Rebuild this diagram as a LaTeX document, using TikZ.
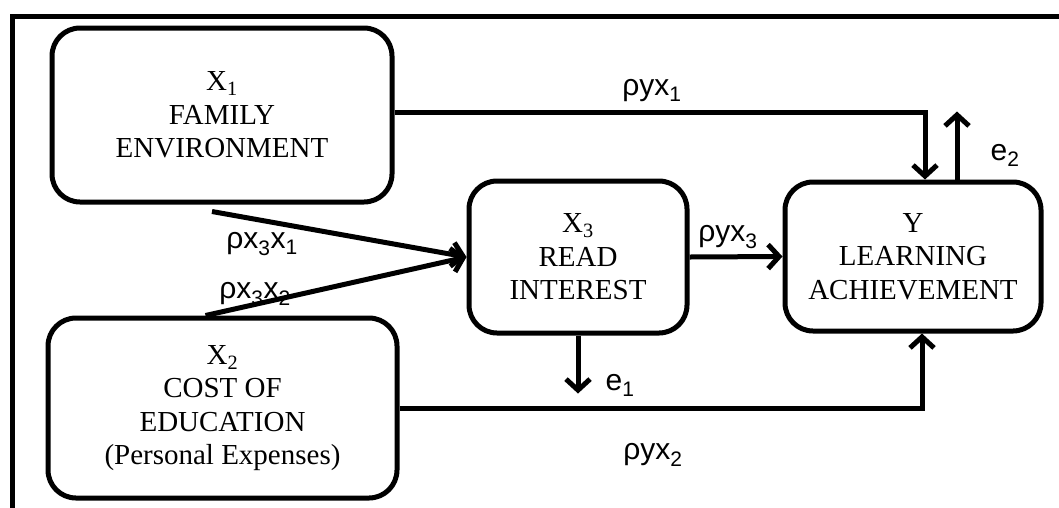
\documentclass[tikz,border=0pt]{standalone}
\usepackage{fontspec}
\setmainfont{Liberation Serif}
\setsansfont{Liberation Sans}
\usetikzlibrary{arrows.meta,calc}
\newcommand\sbs[1]{\textsubscript{#1}}
\tikzset{
  varbox/.style={draw, line width=5pt, rounded corners=28pt, inner sep=0pt,
    align=center, font=\fontsize{29}{33.5}\selectfont},
  conn/.style={line width=5pt, -{Straight Barb[length=11pt,width=24pt]}},
  lbl/.style={font=\sffamily\fontsize{30}{34}\selectfont, inner sep=0pt},
  frame/.style={line width=5pt}
}
\begin{document}
\begin{tikzpicture}[x=1pt,y=-1pt]
\useasboundingbox (0,0) rectangle (1059,507);
\draw[frame] (12,510) -- (12,16) -- (1062,16);

\node[varbox, minimum width=340pt, minimum height=174pt] (x1) at (222,115)
  {X\sbs{1}\\FAMILY\\ENVIRONMENT};
\node[varbox, minimum width=349pt, minimum height=180pt] (x2) at (222.5,408)
  {X\sbs{2}\\COST OF\\EDUCATION\\(Personal Expenses)};
\node[varbox, minimum width=218pt, minimum height=152pt] (x3) at (578,257)
  {X\sbs{3}\\READ\\INTEREST};
\node[varbox, minimum width=256pt, minimum height=149pt] (y) at (913,256.5)
  {Y\\LEARNING\\ACHIEVEMENT};

\coordinate (a1) at ($(x1.south)+(-10,7)$);
\coordinate (a2) at ($(x2.north)+(-17,0)$);
\coordinate (yin1) at ($(y.north)+(12,0)$);
\coordinate (yout) at ($(y.north)+(44,0)$);
\coordinate (e2end) at ($(y.north)+(44,-68)$);
\coordinate (e1end) at ($(x3.south)+(0,58)$);
\coordinate (yin2) at ($(y.south)+(9,0)$);

\draw[conn] ($(x1.east)+(0,-3)$) -| (yin1);
\draw[conn] (yout) -- (e2end);
\draw[conn] (a1) -- (x3.west);
\draw[conn] (a2) -- (x3.west);
\draw[conn] (x3.east) -- (y.west);
\draw[conn] (x3.south) -- (e1end);
\draw[conn] (x2.east) -| (yin2);

\node[lbl] (l1) at (652,91) {ρyx\sbs{1}};
\node[lbl] (l2) at (1005,155) {e\sbs{2}};
\node[lbl] (l3) at (262,244) {ρx\sbs{3}x\sbs{1}};
\node[lbl] (l4) at (255,294) {ρx\sbs{3}x\sbs{2}};
\node[lbl] (l5) at (728,237) {ρyx\sbs{3}};
\node[lbl] (l6) at (620,385) {e\sbs{1}};
\node[lbl] (l7) at (653,455) {ρyx\sbs{2}};
\end{tikzpicture}
\end{document}
